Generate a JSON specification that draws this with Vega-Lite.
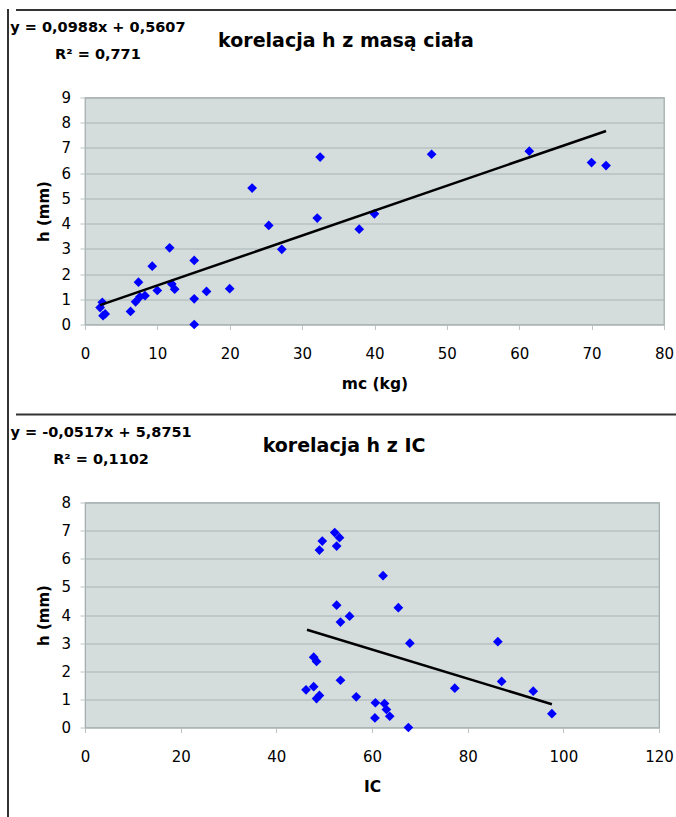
{
  "$schema": "https://vega.github.io/schema/vega-lite/v6.json",
  "padding": {"left": 7, "top": 9, "right": 0, "bottom": 0},
  "background": "white",
  "datasets": {
    "mc": [
      {"mc": 2.1, "h": 0.67}, {"mc": 2.4, "h": 0.88}, {"mc": 2.5, "h": 0.35}, {"mc": 2.8, "h": 0.42},
      {"mc": 6.3, "h": 0.52}, {"mc": 7.0, "h": 0.9}, {"mc": 7.4, "h": 1.68}, {"mc": 7.6, "h": 1.1},
      {"mc": 8.3, "h": 1.14}, {"mc": 9.3, "h": 2.31}, {"mc": 10.0, "h": 1.35}, {"mc": 11.7, "h": 3.04},
      {"mc": 12.0, "h": 1.61}, {"mc": 12.4, "h": 1.4}, {"mc": 15.1, "h": 2.54}, {"mc": 15.1, "h": 1.02},
      {"mc": 15.1, "h": 0.0}, {"mc": 16.8, "h": 1.31}, {"mc": 20.0, "h": 1.42}, {"mc": 23.1, "h": 5.41},
      {"mc": 25.4, "h": 3.93}, {"mc": 27.2, "h": 2.98}, {"mc": 32.1, "h": 4.22}, {"mc": 32.5, "h": 6.64},
      {"mc": 37.9, "h": 3.78}, {"mc": 40.0, "h": 4.39}, {"mc": 47.9, "h": 6.75}, {"mc": 61.4, "h": 6.87},
      {"mc": 70.0, "h": 6.42}, {"mc": 72.0, "h": 6.3}
    ],
    "fit1": [{"mc": 2.1, "h": 0.768}, {"mc": 72.0, "h": 7.674}],
    "ic": [
      {"ic": 52.2, "h": 6.93}, {"ic": 53.2, "h": 6.75}, {"ic": 49.6, "h": 6.63}, {"ic": 49.0, "h": 6.31},
      {"ic": 52.6, "h": 6.45}, {"ic": 62.3, "h": 5.4}, {"ic": 52.6, "h": 4.35}, {"ic": 65.5, "h": 4.26},
      {"ic": 55.3, "h": 3.96}, {"ic": 53.4, "h": 3.75}, {"ic": 67.9, "h": 3.0}, {"ic": 86.3, "h": 3.05},
      {"ic": 47.8, "h": 2.5}, {"ic": 48.4, "h": 2.35}, {"ic": 53.4, "h": 1.68}, {"ic": 87.1, "h": 1.64},
      {"ic": 47.8, "h": 1.45}, {"ic": 46.2, "h": 1.34}, {"ic": 77.3, "h": 1.4}, {"ic": 93.7, "h": 1.29},
      {"ic": 49.0, "h": 1.14}, {"ic": 48.4, "h": 1.03}, {"ic": 56.7, "h": 1.09}, {"ic": 60.7, "h": 0.88},
      {"ic": 62.6, "h": 0.85}, {"ic": 63.0, "h": 0.64}, {"ic": 63.7, "h": 0.4}, {"ic": 60.6, "h": 0.34},
      {"ic": 67.6, "h": 0.0}, {"ic": 97.6, "h": 0.49}
    ],
    "fit2": [{"ic": 46.4, "h": 3.476}, {"ic": 97.6, "h": 0.829}]
  },
  "config": {
    "font": "DejaVu Sans",
    "axis": {
      "labelFont": "DejaVu Sans", "labelFontSize": 15, "labelColor": "#000",
      "titleFont": "DejaVu Sans", "titleFontWeight": "bold", "titleColor": "#000",
      "domain": false, "tickSize": 5, "tickColor": "#b9c2c2", "tickWidth": 1,
      "labelFlush": false, "labelOverlap": false
    },
    "axisX": {"grid": false, "labelPadding": 17, "titlePadding": 15, "titleFontSize": 15.5},
    "axisY": {"grid": true, "gridColor": "#a9b4b4", "gridWidth": 1.2, "labelPadding": 9.5, "titlePadding": 9, "titleFontSize": 15}
  },
  "spacing": 0,
  "hconcat": [
    {
      "width": 0.01, "height": 806,
      "view": {"stroke": "#333", "strokeWidth": 2, "fill": null},
      "data": {"values": []},
      "mark": "point"
    },
    {
      "spacing": 20.5,
      "center": true,
      "vconcat": [
        {
          "spacing": 7.5,
          "center": true,
          "vconcat": [
            {
              "width": 724, "height": 0.01,
              "view": {"stroke": "#333", "strokeWidth": 2, "fill": null},
              "data": {"values": []},
              "mark": "point"
            },
            {
              "title": {
                "text": ["y = 0,0988x + 0,5607", "R² = 0,771"],
                "anchor": "start", "frame": "group", "align": "center",
                "dx": 13, "dy": 31.5, "offset": 0,
                "font": "DejaVu Sans", "fontSize": 14.5, "fontWeight": "bold",
                "lineHeight": 26.5, "color": "#000", "baseline": "top"
              },
              "vconcat": [
                {
                  "width": 579, "height": 227,
                  "title": {
                    "text": "korelacja h z masą ciała", "anchor": "middle", "frame": "group",
                    "dx": -28.5, "offset": 40, "font": "DejaVu Sans", "fontSize": 19,
                    "fontWeight": "bold", "color": "#000"
                  },
                  "view": {"fill": "#d4dcdc", "stroke": "#a0aaaa", "strokeWidth": 1.2},
                  "encoding": {
                    "x": {"field": "mc", "type": "quantitative", "scale": {"domain": [0, 80]},
                          "axis": {"title": "mc (kg)", "values": [0, 10, 20, 30, 40, 50, 60, 70, 80]}},
                    "y": {"field": "h", "type": "quantitative", "scale": {"domain": [0, 9]},
                          "axis": {"title": "h (mm)", "values": [0, 1, 2, 3, 4, 5, 6, 7, 8, 9]}}
                  },
                  "layer": [
                    {
                      "data": {"name": "mc"},
                      "mark": {"type": "point", "shape": "diamond", "filled": true, "color": "#0000ff", "size": 95, "opacity": 1}
                    },
                    {
                      "data": {"name": "fit1"},
                      "mark": {"type": "line", "color": "#000", "strokeWidth": 2.5}
                    }
                  ]
                }
              ]
            }
          ]
        },
        {
          "spacing": 8,
          "center": true,
          "vconcat": [
            {
              "width": 724, "height": 0.01,
              "view": {"stroke": "#333", "strokeWidth": 2, "fill": null},
              "data": {"values": []},
              "mark": "point"
            },
            {
              "title": {
                "text": ["y = -0,0517x + 5,8751", "R² = 0,1102"],
                "anchor": "start", "frame": "group", "align": "center",
                "dx": 16, "dy": 31.5, "offset": 0,
                "font": "DejaVu Sans", "fontSize": 14.5, "fontWeight": "bold",
                "lineHeight": 26.5, "color": "#000", "baseline": "top"
              },
              "vconcat": [
                {
                  "width": 574, "height": 225,
                  "title": {
                    "text": "korelacja h z IC", "anchor": "middle", "frame": "group",
                    "dx": -28, "offset": 40, "font": "DejaVu Sans", "fontSize": 19,
                    "fontWeight": "bold", "color": "#000"
                  },
                  "view": {"fill": "#d4dcdc", "stroke": "#a0aaaa", "strokeWidth": 1.2},
                  "encoding": {
                    "x": {"field": "ic", "type": "quantitative", "scale": {"domain": [0, 120]},
                          "axis": {"title": "IC", "values": [0, 20, 40, 60, 80, 100, 120]}},
                    "y": {"field": "h", "type": "quantitative", "scale": {"domain": [0, 8]},
                          "axis": {"title": "h (mm)", "values": [0, 1, 2, 3, 4, 5, 6, 7, 8]}}
                  },
                  "layer": [
                    {
                      "data": {"name": "ic"},
                      "mark": {"type": "point", "shape": "diamond", "filled": true, "color": "#0000ff", "size": 95, "opacity": 1}
                    },
                    {
                      "data": {"name": "fit2"},
                      "mark": {"type": "line", "color": "#000", "strokeWidth": 2.5}
                    }
                  ]
                }
              ]
            }
          ]
        }
      ]
    }
  ]
}
